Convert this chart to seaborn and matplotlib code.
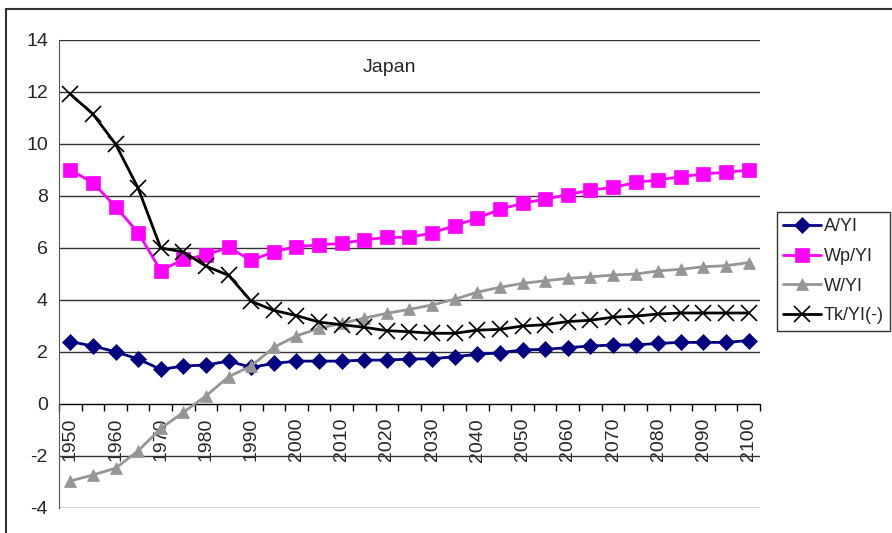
import matplotlib
matplotlib.use("Agg")
import matplotlib.pyplot as plt
import matplotlib.patches as mpatches
from matplotlib.ticker import MultipleLocator, FixedLocator
import seaborn as sns

years = list(range(1950, 2101, 5))

a_yi = [2.40, 2.23, 2.01, 1.73, 1.33, 1.46, 1.50, 1.65, 1.41, 1.56,
        1.65, 1.65, 1.65, 1.69, 1.69, 1.73, 1.74, 1.82, 1.91, 1.97,
        2.08, 2.10, 2.17, 2.23, 2.27, 2.27, 2.33, 2.37, 2.37, 2.37, 2.44]
wp_yi = [9.00, 8.51, 7.59, 6.59, 5.13, 5.56, 5.73, 6.03, 5.52, 5.86,
         6.05, 6.12, 6.18, 6.31, 6.41, 6.41, 6.58, 6.86, 7.14, 7.49,
         7.72, 7.88, 8.05, 8.23, 8.33, 8.52, 8.62, 8.74, 8.85, 8.91, 9.00]
w_yi = [-2.96, -2.73, -2.47, -1.80, -0.94, -0.32, 0.31, 1.05, 1.46, 2.18,
        2.62, 2.91, 3.10, 3.30, 3.49, 3.64, 3.81, 4.03, 4.30, 4.49,
        4.64, 4.74, 4.83, 4.89, 4.96, 5.00, 5.12, 5.18, 5.28, 5.32, 5.44]
tk_yi = [11.92, 11.15, 10.00, 8.30, 6.00, 5.85, 5.30, 4.95, 3.95, 3.60,
         3.40, 3.15, 3.05, 2.95, 2.82, 2.78, 2.72, 2.72, 2.84, 2.87,
         3.00, 3.05, 3.17, 3.22, 3.34, 3.38, 3.46, 3.50, 3.50, 3.50, 3.50]

labels = ["A/YI", "Wp/YI", "W/YI", "Tk/YI(-)"]
colors = ["#000080", "#FF00FF", "#969696", "#000000"]
markers = ["D", "s", "^", "x"]
msizes = [8, 9.5, 9, 11]

sns.set_style("white")
plt.rcParams['font.family'] = ['Liberation Sans', 'DejaVu Sans']
plt.rcParams['axes.unicode_minus'] = False

fig = plt.figure(figsize=(8.92, 5.33), dpi=100)
ax = fig.add_axes([59 / 892, 1 - 508 / 533, (760 - 59) / 892, (508 - 40) / 533])

for vals, lab, c, m, ms in zip([a_yi, wp_yi, w_yi, tk_yi], labels, colors, markers, msizes):
    sns.lineplot(x=years, y=vals, ax=ax, color=c, marker=m, markersize=ms,
                 markeredgecolor=c, markerfacecolor=c, markeredgewidth=1.2 if m == "x" else 0.5,
                 linewidth=2.0, label=lab, zorder=3)

ax.set_xlim(1947.5, 2102.5)
ax.set_ylim(-4, 14)
ax.yaxis.set_major_locator(MultipleLocator(2))
ax.yaxis.grid(True, color="#333333", linewidth=1.0)
ax.set_axisbelow(True)

ax.spines['top'].set_visible(False)
ax.spines['right'].set_visible(False)
ax.spines['left'].set_color("#555555")
ax.spines['bottom'].set_position(('data', 0))
ax.spines['bottom'].set_color("#000000")
ax.spines['bottom'].set_zorder(2)

# category-style axis: tick marks between points, labels every 10 years
ax.xaxis.set_major_locator(FixedLocator(list(range(1950, 2101, 10))))
ax.xaxis.set_minor_locator(FixedLocator([1947.5 + 5 * i for i in range(32)]))
ax.set_xticklabels([str(y) for y in range(1950, 2101, 10)], rotation=90, fontsize=14)
ax.tick_params(axis='x', which='major', length=0, pad=10)
ax.tick_params(axis='x', which='minor', length=5, direction='out', color="#000000", width=1)
ax.tick_params(axis='y', length=4, direction='out', color="#555555", labelsize=14, pad=4)
ax.tick_params(axis='x', which='both', bottom=True)
ax.set_xlabel("")
ax.set_ylabel("")

ax.text(0.472, 0.942, "Japan", transform=ax.transAxes, ha='center', va='center', fontsize=14)

handles, labs = ax.get_legend_handles_labels()
ax.get_legend().remove()
leg = fig.legend(handles, labs, loc='upper left', bbox_to_anchor=(777 / 892, 1 - 212 / 533),
                 fontsize=13, frameon=True, fancybox=False, handlelength=2.1,
                 borderpad=0.35, labelspacing=0.7, handletextpad=0.15, borderaxespad=0)
leg.get_frame().set_edgecolor("#000000")
leg.get_frame().set_linewidth(1.0)

border = mpatches.Rectangle((6 / 892, -0.1), 1.2, 0.1 + (1 - 9 / 533), transform=fig.transFigure,
                            fill=False, edgecolor="#333333", linewidth=1.5, clip_on=False)
fig.patches.append(border)

fig.savefig("out.png", dpi=100)
